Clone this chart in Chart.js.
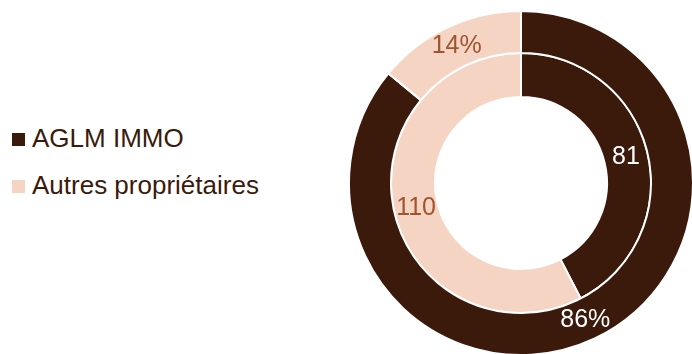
<!DOCTYPE html>
<html>
<head>
<meta charset="utf-8">
<script src="https://cdn.jsdelivr.net/npm/chart.js@4"></script>
<style>
  html, body { margin:0; padding:0; width:692px; height:354px; overflow:hidden; background:#fff; font-family:"Liberation Sans", Arial, sans-serif; }
  #legend { position:absolute; left:12px; top:123px; }
  .item { position:absolute; left:0; white-space:nowrap; font-size:26px; color:#3B1A0C; height:30px; line-height:30px; }
  .sw { position:absolute; left:0; top:10px; width:13px; height:13px; }
  .txt { position:absolute; left:20px; top:0; }
  #wrap { position:absolute; left:348px; top:10px; width:346px; height:346px; }
</style>
</head>
<body>
<div id="legend"></div>
<div id="wrap"><canvas id="c"></canvas></div>
<script>
const categories = ['AGLM IMMO', 'Autres propriétaires'];
const outerValues = [86, 14];
const outerLabels = ['86%', '14%'];
const innerValues = [81, 110];
const colors = ['#3B1A0C', '#F5D4C4'];
const labelColors = ['#FFFFFF', '#A0552E'];

// HTML legend
const legend = document.getElementById('legend');
categories.forEach((c, i) => {
  const d = document.createElement('div');
  d.className = 'item';
  d.style.top = (i * 47) + 'px';
  d.innerHTML = '<span class="sw" style="background:' + colors[i] + '"></span><span class="txt">' + c + '</span>';
  legend.appendChild(d);
});

const labelPlugin = {
  id: 'arcLabels',
  afterDatasetsDraw(chart) {
    const ctx = chart.ctx;
    ctx.save();
    ctx.font = '25px "Liberation Sans", Arial, sans-serif';
    ctx.textAlign = 'center';
    ctx.textBaseline = 'middle';
    chart.data.datasets.forEach((ds, di) => {
      const meta = chart.getDatasetMeta(di);
      meta.data.forEach((arc, i) => {
        const p = arc.getCenterPoint();
        ctx.fillStyle = labelColors[i];
        ctx.fillText(ds.valueLabels[i], p.x, p.y);
      });
    });
    ctx.restore();
  }
};

new Chart(document.getElementById('c'), {
  type: 'doughnut',
  data: {
    labels: categories,
    datasets: [
      { data: outerValues, valueLabels: outerLabels, backgroundColor: colors, borderColor: '#FFFFFF', borderWidth: 2, weight: 42 },
      { data: innerValues, valueLabels: innerValues.map(String), backgroundColor: colors, borderColor: '#FFFFFF', borderWidth: 2, weight: 44 }
    ]
  },
  options: {
    responsive: true,
    maintainAspectRatio: false,
    animation: false,
    cutout: '50%',
    layout: { padding: 0 },
    plugins: { legend: { display: false }, tooltip: { enabled: false } }
  },
  plugins: [labelPlugin]
});
</script>
</body>
</html>
